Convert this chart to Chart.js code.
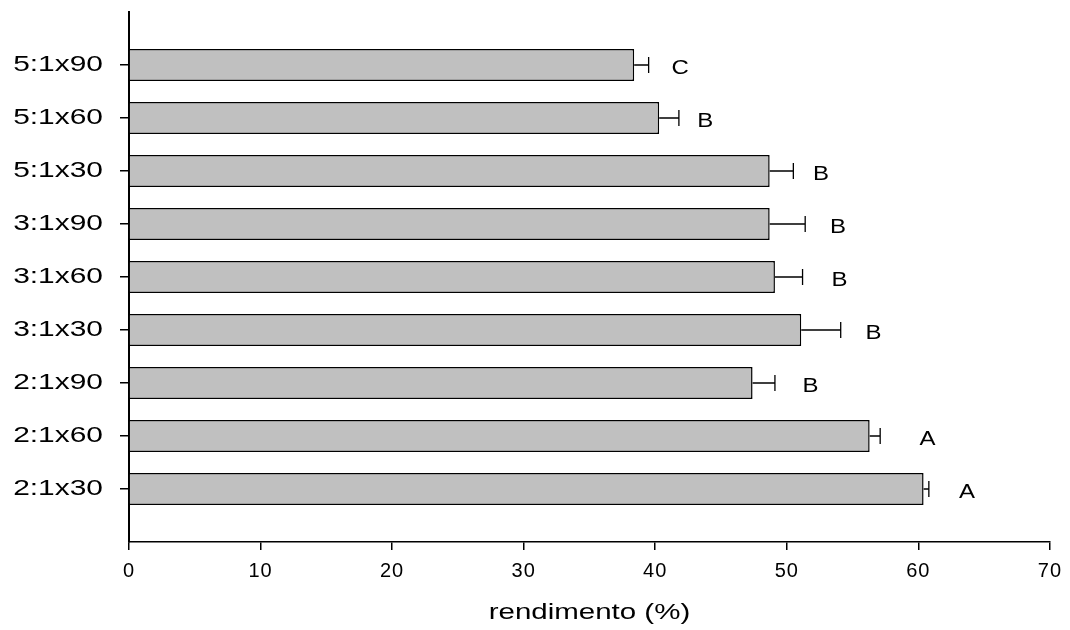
<!DOCTYPE html>
<html>
<head>
<meta charset="utf-8">
<script src="https://cdn.jsdelivr.net/npm/chart.js@4/dist/chart.umd.min.js"></script>
<style>
  html, body { margin: 0; padding: 0; background: #fff; }
  #wrap { width: 1070px; height: 630px; }
</style>
</head>
<body>
<div id="wrap"><canvas id="chart"></canvas></div>
<script>
// tratamentos (de cima para baixo)
const labels = ['5:1x90', '5:1x60', '5:1x30', '3:1x90', '3:1x60', '3:1x30', '2:1x90', '2:1x60', '2:1x30'];
const rendimento = [38.4, 40.3, 48.7, 48.7, 49.1, 51.1, 47.4, 56.3, 60.4];
const erro = [1.1, 1.5, 1.8, 2.7, 2.1, 3.0, 1.7, 0.8, 0.4];
const letras = ['C', 'B', 'B', 'B', 'B', 'B', 'B', 'A', 'A'];
const letraPos = [41.9, 43.8, 52.6, 53.9, 54.0, 56.6, 51.8, 60.7, 63.7];
const xTicks = [0, 10, 20, 30, 40, 50, 60, 70];

const FONT = "'Liberation Sans', Arial, sans-serif";

// o texto do original e' esticado na horizontal
function stretched(scale, method, anchor, sx) {
    if (scale['_st_' + method]) return;
    const orig = scale[method];
    scale[method] = function (...args) {
        const c = this.ctx;
        const ax = anchor(this);
        c.save();
        c.translate(ax, 0);
        c.scale(sx, 1);
        c.translate(-ax, 0);
        orig.apply(this, args);
        c.restore();
    };
    scale['_st_' + method] = true;
}

function spaced(scale, method, px) {
    if (scale['_sp_' + method]) return;
    const orig = scale[method];
    scale[method] = function (...args) {
        const c = this.ctx;
        c.save();
        c.letterSpacing = px;
        orig.apply(this, args);
        c.restore();
    };
    scale['_sp_' + method] = true;
}

// barras de erro + letras
const errorBars = {
    id: 'errorBars',
    afterDatasetsDraw(chart) {
        const ctx = chart.ctx;
        const xs = chart.scales.x, ys = chart.scales.y;
        ctx.save();
        ctx.strokeStyle = '#000';
        ctx.lineWidth = 1.3;
        ctx.fillStyle = '#000';
        ctx.font = '20px ' + FONT;
        ctx.textAlign = 'center';
        ctx.textBaseline = 'middle';
        rendimento.forEach((v, i) => {
            const y = ys.getPixelForValue(i);
            const x0 = xs.getPixelForValue(v);
            const x1 = xs.getPixelForValue(v + erro[i]);
            ctx.beginPath();
            ctx.moveTo(x0, y);
            ctx.lineTo(x1, y);
            ctx.moveTo(x1, y - 8);
            ctx.lineTo(x1, y + 8);
            ctx.stroke();
            ctx.save();
            ctx.translate(xs.getPixelForValue(letraPos[i]), y + 3);
            ctx.scale(1.2, 1);
            ctx.fillText(letras[i], 0, 0);
            ctx.restore();
        });
        ctx.restore();
    }
};

new Chart(document.getElementById('chart'), {
    type: 'bar',
    data: {
        datasets: [{
            data: rendimento.map((v, i) => ({ x: v, y: i })),
            backgroundColor: '#c0c0c0',
            borderColor: '#000',
            borderWidth: 1.5,
            barPercentage: 0.6,
            categoryPercentage: 1
        }]
    },
    options: {
        indexAxis: 'y',
        responsive: true,
        maintainAspectRatio: false,
        animation: false,
        layout: { padding: { top: 12, right: 20, bottom: 0, left: 0 } },
        plugins: { legend: { display: false }, tooltip: { enabled: false } },
        scales: {
            x: {
                type: 'linear',
                min: 0,
                max: 70,
                afterBuildTicks: s => { s.ticks = xTicks.map(v => ({ value: v })); },
                afterFit: s => {
                    s.height = 88;
                    spaced(s, 'drawLabels', '1px');
                    stretched(s, 'drawTitle', sc => (sc.left + sc.right) / 2, 1.34);
                },
                border: { display: true, color: '#000', width: 1.5 },
                grid: { display: true, drawOnChartArea: false, drawTicks: true, tickLength: 8, color: '#000', lineWidth: 1.5 },
                ticks: { color: '#000', padding: 9, font: { family: FONT, size: 20 } },
                title: { display: true, text: 'rendimento (%)', color: '#000', font: { family: FONT, size: 22 } }
            },
            y: {
                type: 'linear',
                reverse: true,
                offset: false,
                min: -1,
                max: 9,
                afterBuildTicks: s => { s.ticks = labels.map((l, i) => ({ value: i })); },
                afterFit: s => {
                    s.width = 129;
                    s.paddingTop = 0;
                    s.paddingBottom = 0;
                    stretched(s, 'drawLabels', sc => sc.right - 9 - 17, 1.36);
                },
                border: { display: true, color: '#000', width: 2 },
                grid: { display: true, offset: false, drawOnChartArea: false, drawTicks: true, tickLength: 9, color: '#000', lineWidth: 1.5 },
                ticks: {
                    color: '#000',
                    padding: 17,
                    font: { family: FONT, size: 22 },
                    callback: v => labels[v]
                }
            }
        }
    },
    plugins: [errorBars]
});
</script>
</body>
</html>
